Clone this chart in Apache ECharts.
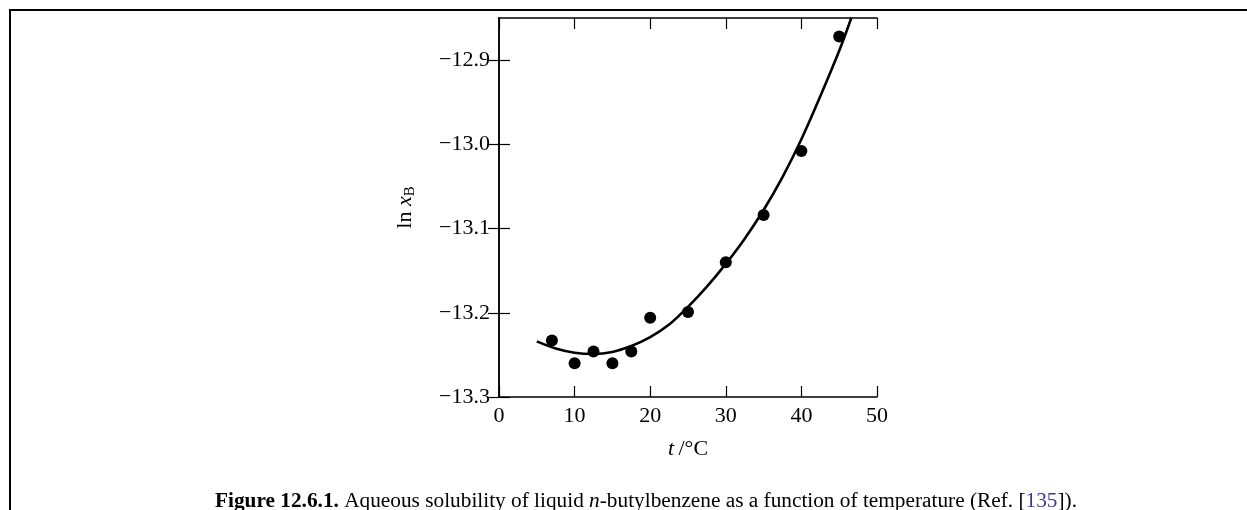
<!DOCTYPE html>
<html>
<head>
<meta charset="utf-8">
<script src="https://cdn.jsdelivr.net/npm/echarts@6/dist/echarts.min.js"></script>
<style>
  html, body { margin: 0; padding: 0; background: #fff; }
  #chart { width: 1247px; height: 510px; position: relative; }
  #frame { position: absolute; left: 9px; top: 9px; right: -5px; bottom: -5px;
           border-left: 2px solid #000; border-top: 2px solid #000; pointer-events: none; }
</style>
</head>
<body>
<div id="chart"></div>
<div id="frame"></div>
<script>
// Measured points: temperature t / °C and ln x_B
const tData = [7, 10, 12.5, 15, 17.5, 20, 25, 30, 35, 40, 45];
const lnData = [-13.233, -13.260, -13.246, -13.260, -13.246, -13.206, -13.199, -13.140, -13.084, -13.008, -12.872];

// Fitted curve
const curveT = [5, 7.5, 10, 12.5, 15, 17.5, 20, 22.5, 25, 27.5, 30, 32.5, 35, 37.5, 40, 42.5, 45, 46.6];
const curveLn = [-13.234, -13.2425, -13.2475, -13.249, -13.2465, -13.2395, -13.229, -13.214, -13.193, -13.169, -13.142, -13.112, -13.078, -13.039, -12.994, -12.943, -12.889, -12.850];

const xTicks = [0, 10, 20, 30, 40, 50];
const yTicks = [-13.3, -13.2, -13.1, -13.0, -12.9];

const FONT = '"Liberation Serif", "DejaVu Serif", serif';
const fmtY = v => (v < 0 ? '\u2212' : '') + Math.abs(v).toFixed(1);

const chart = echarts.init(document.getElementById('chart'), null, { renderer: 'canvas' });

const axisLine = { show: true, lineStyle: { color: '#000', width: 1.5 } };
const tick = (vals) => ({ show: true, inside: true, length: 11, customValues: vals, lineStyle: { color: '#000', width: 1.2 } });

chart.setOption({
  animation: false,
  backgroundColor: 'transparent',
  title: {
    left: 641, textAlign: 'center', top: 486,
    text: '{b|Figure 12.6.1.} Aqueous solubility of liquid {i|n}-butylbenzene as a function of temperature (Ref. [{l|135}]).',
    textStyle: {
      fontFamily: FONT, fontSize: 21.3, fontWeight: 'normal', color: '#000',
      rich: {
        b: { fontFamily: FONT, fontSize: 21.3, fontWeight: 'bold', color: '#000' },
        i: { fontFamily: FONT, fontSize: 21.3, fontStyle: 'italic', color: '#000' },
        l: { fontFamily: FONT, fontSize: 21.3, color: '#3b3b8f' }
      }
    }
  },
  grid: { left: 499, right: 370, top: 18, bottom: 113, show: false },
  xAxis: [
    {
      type: 'value', min: 0, max: 50, interval: 10, position: 'bottom',
      axisLine, axisTick: tick(xTicks), splitLine: { show: false },
      axisLabel: { customValues: xTicks, margin: 8, fontFamily: FONT, fontSize: 22, color: '#000' },
      name: '{i|t}\u2009/\u00B0C', nameLocation: 'middle', nameGap: 41,
      nameTextStyle: { fontFamily: FONT, fontSize: 22, color: '#000',
        rich: { i: { fontFamily: FONT, fontSize: 22, fontStyle: 'italic', color: '#000' } } }
    },
    {
      type: 'value', min: 0, max: 50, interval: 10, position: 'top',
      axisLine, axisTick: tick(xTicks), axisLabel: { show: false }, splitLine: { show: false }
    }
  ],
  yAxis: [
    {
      type: 'value', min: -13.3, max: -12.85, interval: 0.1, position: 'left',
      axisLine, axisTick: tick(yTicks), splitLine: { show: false },
      axisLabel: { customValues: yTicks, formatter: fmtY, margin: 9, fontFamily: FONT, fontSize: 22, color: '#000' },
      name: 'ln {i|x}{s|B}', nameLocation: 'middle', nameGap: 94,
      nameTextStyle: { fontFamily: FONT, fontSize: 22, color: '#000', verticalAlign: 'middle',
        rich: {
          i: { fontFamily: FONT, fontSize: 22, fontStyle: 'italic', color: '#000' },
          s: { fontFamily: FONT, fontSize: 15, color: '#000', padding: [11, 0, 0, 0] }
        } }
    },
    {
      type: 'value', min: -13.3, max: -12.85, interval: 0.1, position: 'right',
      axisLine, axisTick: tick(yTicks), axisLabel: { show: false }, splitLine: { show: false }
    }
  ],
  series: [
    {
      type: 'line', smooth: 0.3, showSymbol: false, symbol: 'none',
      data: curveT.map((t, i) => [t, curveLn[i]]),
      lineStyle: { color: '#000', width: 2.6 }, z: 2
    },
    {
      type: 'scatter', symbol: 'circle', symbolSize: 12,
      data: tData.map((t, i) => [t, lnData[i]]),
      itemStyle: { color: '#000', opacity: 1 }, z: 3
    }
  ]
});
</script>
</body>
</html>
